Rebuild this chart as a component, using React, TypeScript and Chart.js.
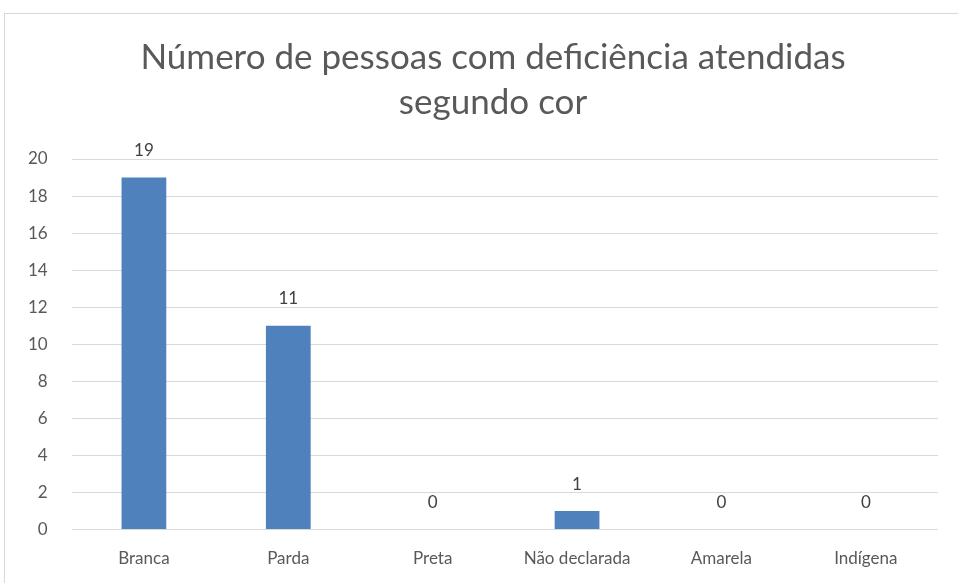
import React, { useEffect, useRef } from "react";
import { Chart, registerables } from "chart.js";

Chart.register(...registerables);

const categories = ["Branca", "Parda", "Preta", "Não declarada", "Amarela", "Indígena"];
const values = [19, 11, 0, 1, 0, 0];
const titleLines = ["Número de pessoas com deficiência atendidas", "segundo cor"];

const FONT = "Lato, 'Open Sans', sans-serif";

const valueLabels = {
  id: "valueLabels",
  afterDatasetsDraw(chart: any) {
    const ctx = chart.ctx;
    const meta = chart.getDatasetMeta(0);
    ctx.save();
    ctx.font = `17px ${FONT}`;
    ctx.fillStyle = "#404040";
    ctx.textAlign = "center";
    ctx.textBaseline = "middle";
    meta.data.forEach((bar: any, i: number) => {
      ctx.fillText(String(values[i]), bar.x, bar.y - 27);
    });
    ctx.restore();
  },
};

const titlePlugin = {
  id: "manualTitle",
  afterDraw(chart: any) {
    const ctx = chart.ctx;
    ctx.save();
    ctx.font = `35px ${FONT}`;
    ctx.fillStyle = "#595959";
    ctx.textAlign = "center";
    ctx.textBaseline = "middle";
    titleLines.forEach((line, i) => {
      ctx.fillText(line, 493, 58 + i * 45);
    });
    ctx.restore();
  },
};

export default function App() {
  const ref = useRef<HTMLCanvasElement>(null);
  useEffect(() => {
    const chart = new Chart(ref.current!, {
      type: "bar",
      data: {
        labels: categories,
        datasets: [
          {
            data: values,
            backgroundColor: "#4f81bd",
            borderWidth: 0,
            barPercentage: 0.62,
            categoryPercentage: 0.5,
          },
        ],
      },
      options: {
        animation: false,
        responsive: false,
        layout: { padding: { left: 4, right: 20, top: 159, bottom: 17 } },
        plugins: {
          legend: { display: false },
          tooltip: { enabled: false },
          title: { display: false },
        },
        scales: {
          x: {
            grid: { display: false },
            border: { display: false },
            ticks: { color: "#595959", font: { family: FONT, size: 17 }, padding: 11 },
          },
          y: {
            min: 0,
            max: 20,
            ticks: { stepSize: 2, color: "#595959", font: { family: FONT, size: 17 }, padding: 24 },
            grid: { color: "#d9d9d9", lineWidth: 1, drawTicks: false },
            border: { display: false },
          },
        },
      },
      plugins: [valueLabels, titlePlugin],
    });
    return () => chart.destroy();
  }, []);
  return (
    <div style={{ position: "fixed", left: 0, top: 0, width: 958, height: 583, background: "#fff", overflow: "hidden" }}>
      <div
        style={{
          position: "absolute",
          left: 4,
          top: 13,
          width: 960,
          height: 600,
          border: "1px solid #d9d9d9",
          boxSizing: "border-box",
        }}
      />
      <canvas ref={ref} width={958} height={597} style={{ position: "absolute", left: 0, top: 0 }} />
    </div>
  );
}
